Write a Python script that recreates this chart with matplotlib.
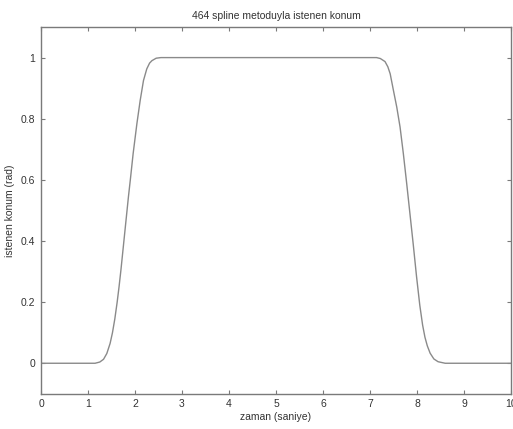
import matplotlib
matplotlib.use('Agg')
import matplotlib.pyplot as plt

# values
zaman = [0.0, 1.15, 1.25, 1.33, 1.40, 1.47, 1.52, 1.57, 1.62, 1.66, 1.70, 1.75, 1.79, 1.83,
         1.86, 1.90, 1.96, 2.04, 2.11, 2.18, 2.25, 2.31, 2.36, 2.45, 2.55,
         7.14, 7.22, 7.32, 7.38, 7.43, 7.50, 7.57, 7.64, 7.71, 7.78, 7.85, 7.92, 7.99,
         8.06, 8.12, 8.17, 8.22, 8.28, 8.36, 8.45, 8.60, 10.0]
konum = [0.0, 0.0, 0.004, 0.013, 0.032, 0.065, 0.100, 0.145, 0.200, 0.250, 0.305, 0.380, 0.440, 0.500,
         0.545, 0.600, 0.686, 0.784, 0.860, 0.925, 0.963, 0.982, 0.990, 0.998, 1.0,
         1.0, 0.997, 0.987, 0.970, 0.947, 0.892, 0.838, 0.773, 0.686, 0.590, 0.490, 0.390, 0.285,
         0.190, 0.125, 0.085, 0.057, 0.033, 0.014, 0.005, 0.0, 0.0]
x_ticks = list(range(0, 11))
y_ticks = [0, 0.2, 0.4, 0.6, 0.8, 1]
y_tick_labels = ['0', '0.2', '0.4', '0.6', '0.8', '1']

plt.rcParams['font.family'] = ['Liberation Sans', 'DejaVu Sans']
gray = '#7a7a7a'
text_col = '#333333'

fig = plt.figure(figsize=(5.13, 4.29), dpi=100)
ax = fig.add_axes([0.080, 0.082, 0.916, 0.855])
ax.plot(zaman, konum, color='#8a8a8a', linewidth=1.0)

ax.set_xlim(0, 10)
ax.set_ylim(-0.1, 1.1)
ax.set_xticks(x_ticks)
ax.set_yticks(y_ticks)
ax.set_yticklabels(y_tick_labels)
ax.tick_params(direction='in', top=True, right=True, length=3, width=0.8,
               color=gray, labelcolor=text_col, labelsize=7.5, pad=4)
for s in ax.spines.values():
    s.set_color(gray)
    s.set_linewidth(1.0)

ax.set_title('464 spline metoduyla istenen konum', fontsize=7.5, color=text_col, pad=6)
ax.set_xlabel('zaman (saniye)', fontsize=7.5, color=text_col, labelpad=2)
ax.set_ylabel('istenen konum (rad)', fontsize=7.5, color=text_col, labelpad=4)

fig.savefig('out.png', dpi=100)
